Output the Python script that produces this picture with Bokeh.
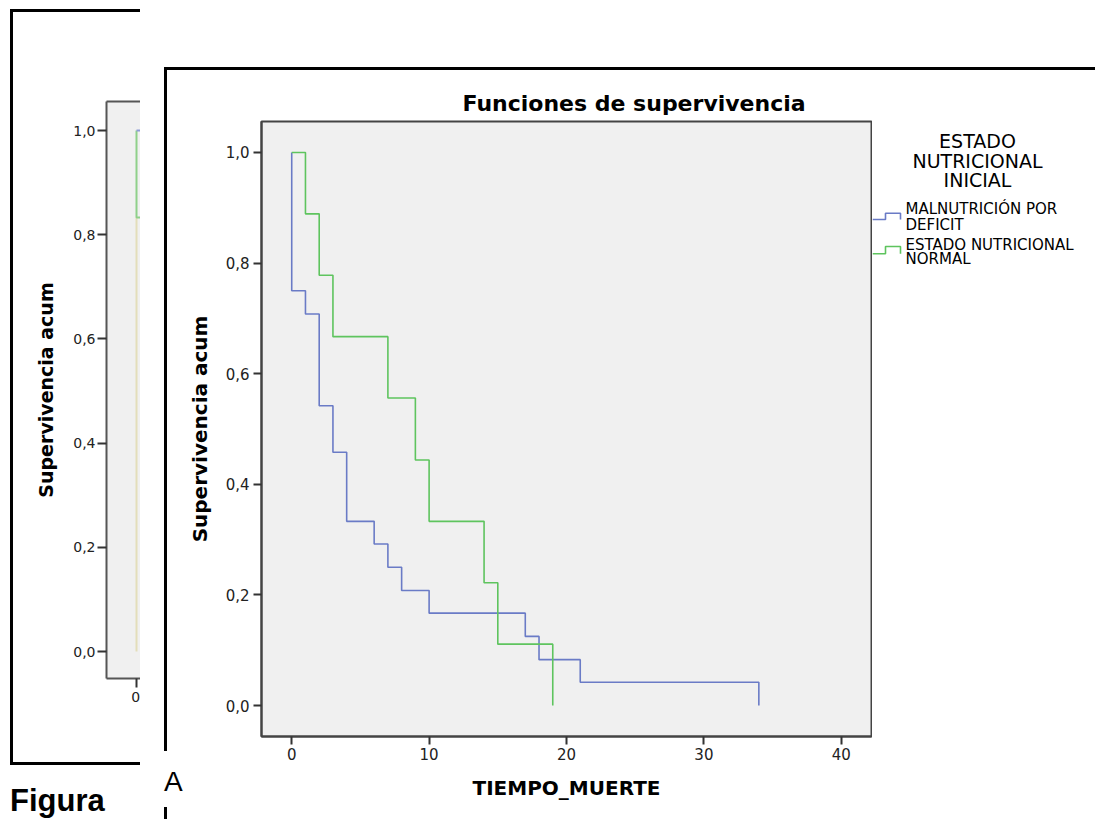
from bokeh.plotting import figure
from bokeh.layouts import row, column
from bokeh.models import Range1d, FixedTicker, CustomJSTickFormatter, LinearAxis, Spacer, Div
from bokeh.core.properties import value
from bokeh.embed import file_html
from bokeh.resources import INLINE

# ---------------- data ----------------
mal_times = [0, 1, 2, 3, 4, 6, 7, 8, 10, 17, 18, 21, 34]
mal_surv = [0.750, 0.708, 0.542, 0.458, 0.333, 0.292, 0.250, 0.208, 0.167, 0.125, 0.083, 0.042, 0.000]
norm_times = [1, 2, 3, 7, 9, 10, 14, 15, 19]
norm_surv = [0.889, 0.778, 0.667, 0.556, 0.444, 0.333, 0.222, 0.111, 0.000]
x_ticks = [0, 10, 20, 30, 40]
y_ticks = [0.0, 0.2, 0.4, 0.6, 0.8, 1.0]
legend_title = ["ESTADO", "NUTRICIONAL", "INICIAL"]
series_labels = ["MALNUTRICIÓN POR", "DEFICIT", "ESTADO NUTRICIONAL", "NORMAL"]
title_text = "Funciones de supervivencia"
x_label = "TIEMPO_MUERTE"
y_label = "Supervivencia acum"

# partially hidden figure on the left of the page
left_x_ticks = [0]
left_blue_x = [0, 4]
left_blue_y = [1.0, 1.0]
left_green_x = [0, 0, 4]
left_green_y = [1.0, 0.833, 0.833]
left_beige_x = [0, 0]
left_beige_y = [0.833, 0.0]

BLUE = "#6A7BC6"
GREEN = "#5EC45E"
FRAME = "#444444"
T, B = 51, 83          # common top / bottom borders of the plots

comma_fmt = CustomJSTickFormatter(code="return tick.toFixed(1).replace('.', ',');")


def gap(w, h):
    return Spacer(width=w, height=h, margin=0)


def blk(w, h):
    return Spacer(width=w, height=h, margin=0, styles={"background-color": "black"})


def style_axis(ax, size, tick_out):
    ax.major_tick_line_color = "#333333"
    ax.major_tick_line_width = 2
    ax.major_tick_in = 0
    ax.major_tick_out = tick_out
    ax.minor_tick_line_color = None
    ax.major_label_text_font = "DejaVu Sans"
    ax.major_label_text_font_size = size
    ax.major_label_text_color = "#222222"
    ax.axis_label_text_font = "DejaVu Sans"
    ax.axis_label_text_font_style = "bold"
    ax.axis_label_text_color = "black"


# ---------------- left (background) figure ----------------
left = figure(width=127, height=711, x_range=Range1d(-3.0, 0.4), y_range=Range1d(-0.0518, 1.0557),
              output_backend="svg", toolbar_location=None,
              min_border_left=93, min_border_right=0, min_border_top=T, min_border_bottom=B)
left.background_fill_color = "#F0F0F0"
left.border_fill_color = "white"
left.outline_line_color = None
left.grid.visible = False
left.line(left_beige_x, left_beige_y, color="#E3DEBA", line_width=2)
left.line(left_green_x, left_green_y, color="#8FD08A", line_width=2)
left.line(left_blue_x, left_blue_y, color="#8E9BD6", line_width=2)
left.xaxis.ticker = FixedTicker(ticks=left_x_ticks)
left.yaxis.ticker = FixedTicker(ticks=y_ticks)
left.yaxis.formatter = comma_fmt
for ax in (left.xaxis[0], left.yaxis[0]):
    style_axis(ax, "14px", 9)
    ax.axis_line_color = "#555555"
    ax.axis_line_width = 2
left.yaxis.major_label_standoff = 2
left.xaxis.major_label_standoff = 4
left.yaxis.axis_label = y_label
left.yaxis.axis_label_text_font_size = "19px"
left.yaxis.axis_label_standoff = 13
left.add_layout(LinearAxis(ticker=FixedTicker(ticks=[]), axis_line_color="#555555", axis_line_width=2,
                           major_tick_line_color=None, minor_tick_line_color=None,
                           major_label_text_font_size="0px"), "above")

left_panel = row(blk(3, 756),
                 column(blk(127, 3), gap(127, 38), left, gap(127, 1), blk(127, 3)))
figura = Div(text="Figura", width=130, height=34, margin=0,
             styles={"font-family": "'Liberation Sans', Arial, sans-serif", "font-size": "31px",
                     "font-weight": "bold", "line-height": "31px", "color": "black"})
left_col = column(gap(140, 9), row(gap(10, 756), left_panel), gap(140, 20), row(gap(10, 34), figura))

# ---------------- main figure ----------------
main = figure(width=688, height=749, x_range=Range1d(-2.2, 42.2), y_range=Range1d(-0.056, 1.056),
              output_backend="svg", toolbar_location=None, title=title_text,
              min_border_left=77, min_border_right=1, min_border_top=T, min_border_bottom=B)
main.title.align = "left"
main.title.offset = 201
main.title.standoff = 11
main.title.text_font = "DejaVu Sans"
main.title.text_font_size = "22px"
main.title.text_font_style = "bold"
main.title.text_color = "black"
main.background_fill_color = "#F0F0F0"
main.border_fill_color = "white"
main.outline_line_color = FRAME
main.outline_line_width = 2
main.grid.visible = False

main.step([0] + mal_times, [1.0] + mal_surv, mode="after", color=BLUE, line_width=1.6)
main.step([0] + norm_times, [1.0] + norm_surv, mode="after", color=GREEN, line_width=1.6)

main.xaxis.ticker = FixedTicker(ticks=x_ticks)
main.yaxis.ticker = FixedTicker(ticks=y_ticks)
main.yaxis.formatter = comma_fmt
for ax in (main.xaxis[0], main.yaxis[0]):
    style_axis(ax, "15px", 8)
    ax.axis_line_color = FRAME
    ax.axis_line_width = 2
    ax.axis_label_text_font_size = "20px"
main.xaxis.axis_label = x_label
main.yaxis.axis_label = y_label
main.xaxis.major_label_standoff = 3
main.yaxis.major_label_standoff = 4
main.xaxis.axis_label_standoff = 13
main.yaxis.axis_label_standoff = 11

# ---------------- legend (drawn beside the plot frame) ----------------
leg = figure(width=223, height=749, x_range=Range1d(872, 1095), y_range=Range1d(736, 121),
             output_backend="svg", toolbar_location=None,
             x_axis_location=None, y_axis_location=None,
             min_border_left=0, min_border_right=0, min_border_top=T, min_border_bottom=B)
leg.background_fill_color = "white"
leg.border_fill_color = "white"
leg.outline_line_color = None
leg.grid.visible = False
leg.text(x=[977] * 3, y=[140.5, 160.3, 179.8], text=legend_title, text_align="center",
         text_baseline="alphabetic", text_font=value("DejaVu Sans"),
         text_font_size=value("19px"), text_color="black")
leg.line([872, 885, 885, 900, 900], [219, 219, 212.7, 212.7, 219], color=BLUE, line_width=1.6)
leg.line([872, 885, 885, 900, 900], [253.3, 253.3, 246, 246, 253.3], color=GREEN, line_width=1.6)
leg.text(x=[905] * 4, y=[208.6, 224.3, 244.3, 258.6], text=series_labels, text_align="left",
         text_baseline="alphabetic", text_font=value("DejaVu Sans"),
         text_font_size=value("15px"), text_color="black")

a_div = Div(text="A", width=20, height=39, margin=0,
            styles={"font-family": "'Liberation Sans', Arial, sans-serif", "font-size": "28px",
                    "line-height": "28px", "color": "black"})
col_a = column(blk(3, 681), gap(20, 17), a_div, blk(3, 12))
right_col = column(gap(955, 67),
                   row(gap(24, 3), blk(931, 3)),
                   row(gap(24, 749), col_a, main, leg))

layout = row(left_col, right_col)
open("out.html", "w").write(file_html(layout, INLINE))
